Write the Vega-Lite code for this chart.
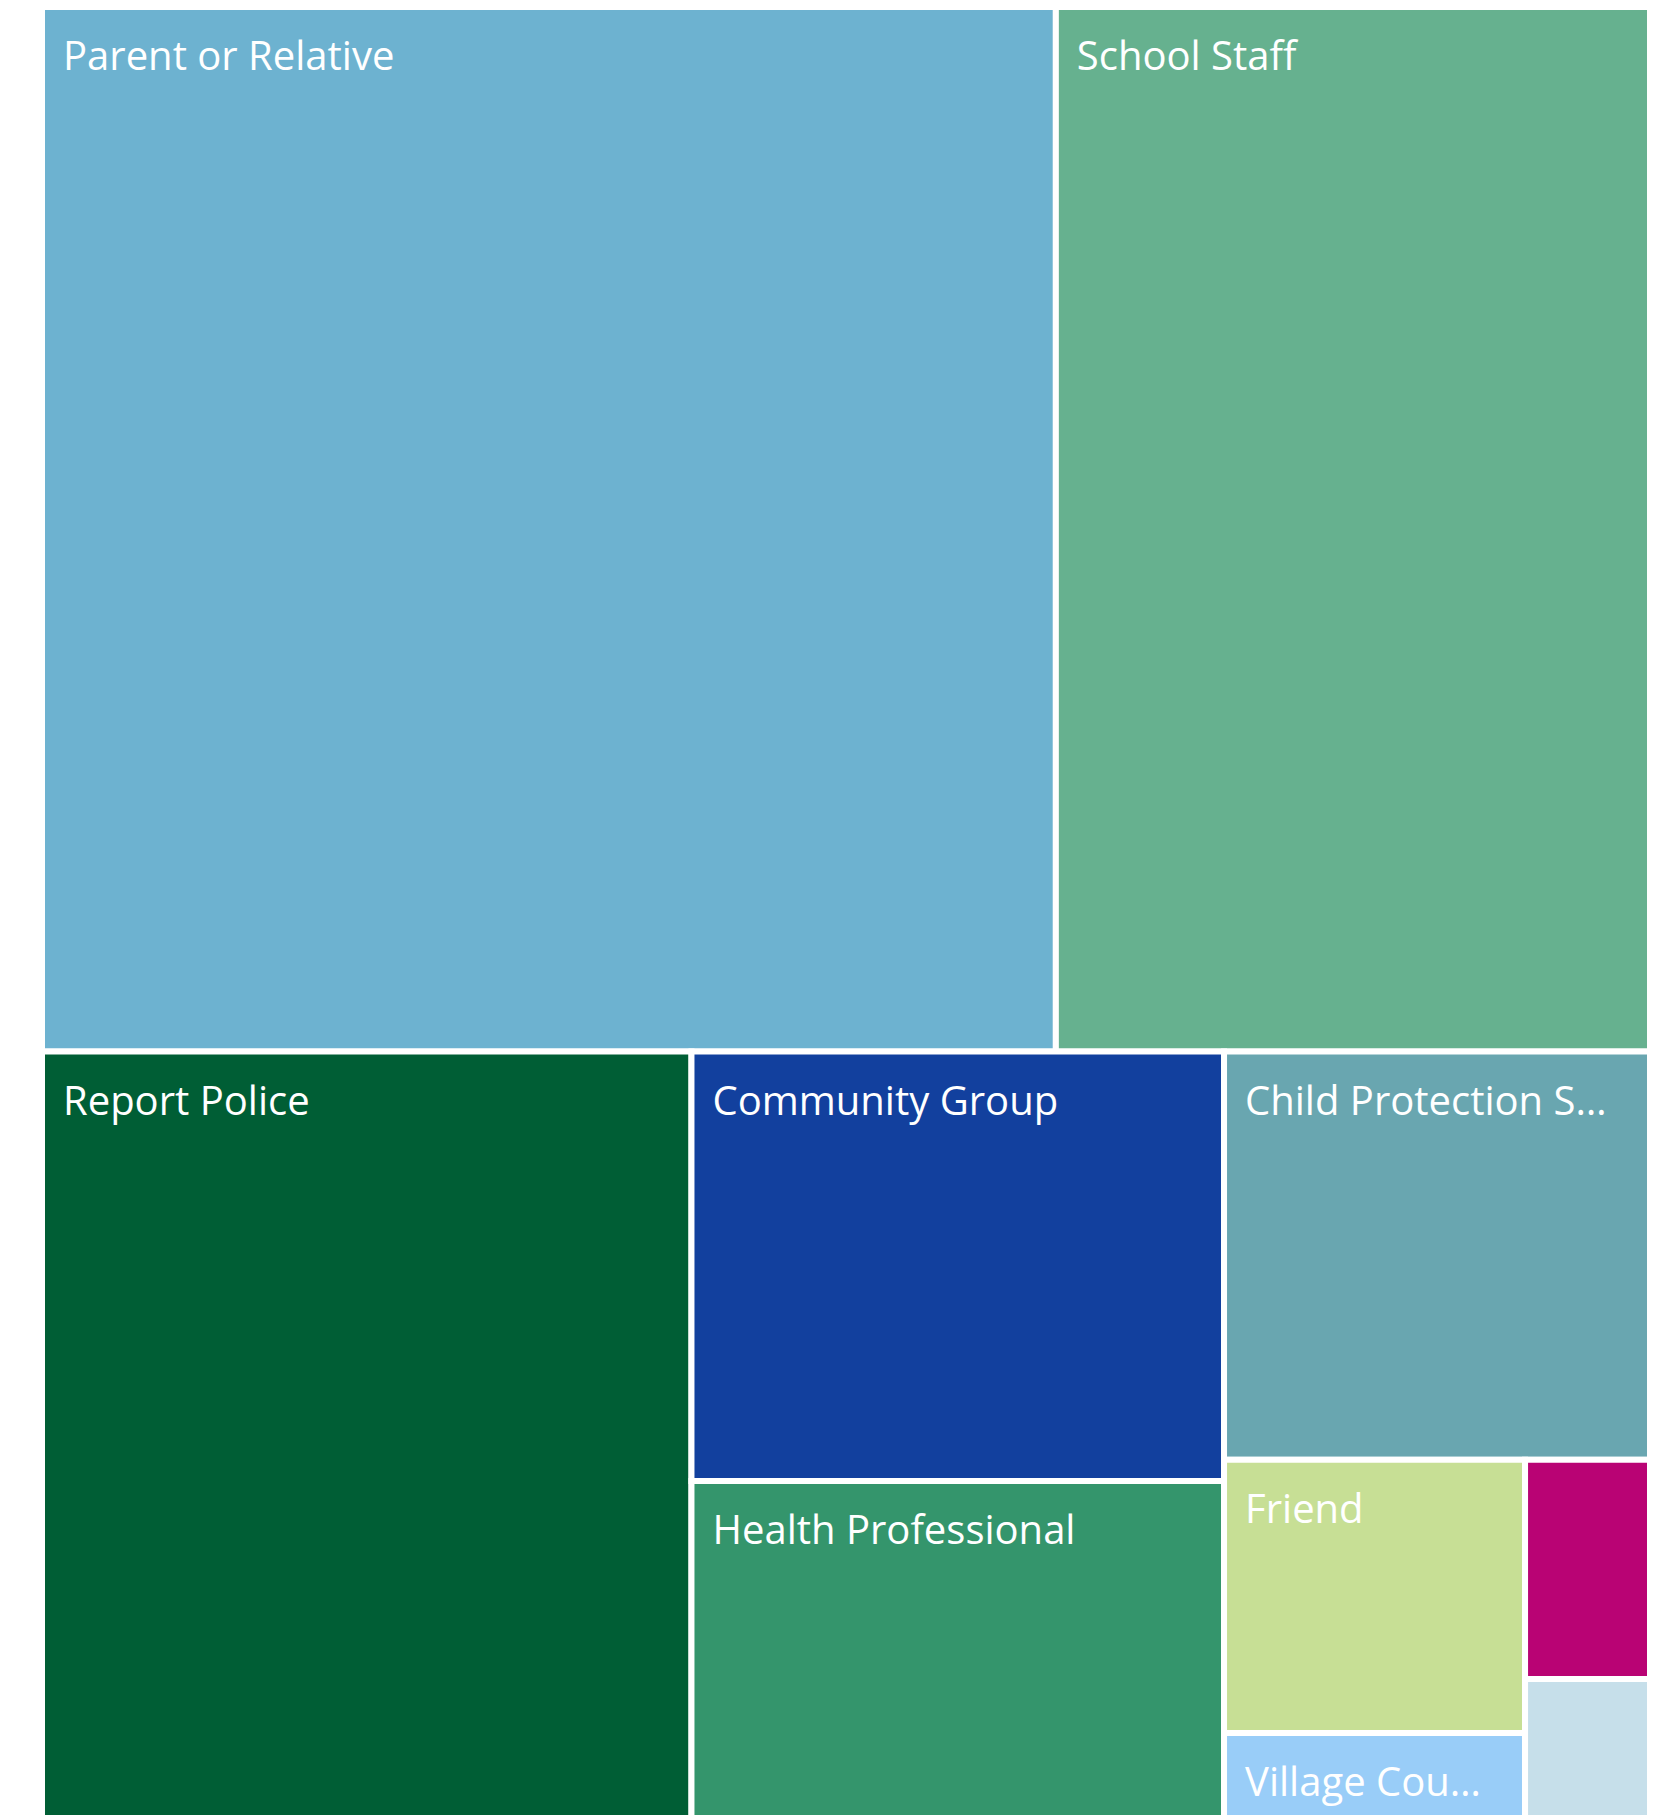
{
  "$schema": "https://vega.github.io/schema/vega-lite/v6.json",
  "width": 1608,
  "height": 1808,
  "autosize": {"type": "none"},
  "padding": {"left": 42, "top": 7, "right": 22, "bottom": 0},
  "background": "white",
  "config": {"view": {"stroke": null}},
  "data": {
    "values": [
      {"category": "Parent or Relative", "x": 0, "x2": 63.05, "y": 0, "y2": 64.96, "color": "#6DB2D0"},
      {"category": "School Staff", "x": 63.05, "x2": 100, "y": 0, "y2": 64.96, "color": "#66B18F"},
      {"category": "Report Police", "x": 0, "x2": 40.39, "y": 64.96, "y2": 117.1, "color": "#005E35"},
      {"category": "Community Group", "x": 40.39, "x2": 73.51, "y": 64.96, "y2": 91.67, "color": "#12409E"},
      {"category": "Health Professional", "x": 40.39, "x2": 73.51, "y": 91.67, "y2": 117.1, "color": "#34956C"},
      {"category": "Child Protection Services", "x": 73.51, "x2": 100, "y": 64.96, "y2": 90.34, "color": "#69A6B0"},
      {"category": "Friend", "x": 73.51, "x2": 92.23, "y": 90.34, "y2": 107.34, "color": "#C7DF95"},
      {"category": "Village Council", "x": 73.51, "x2": 92.23, "y": 107.34, "y2": 117.1, "color": "#99CDF8"},
      {"category": "Religious Leader", "x": 92.23, "x2": 100, "y": 90.34, "y2": 103.98, "color": "#B90374"},
      {"category": "Other", "x": 92.23, "x2": 100, "y": 103.98, "y2": 117.1, "color": "#C6DFEA"}
    ]
  },
  "encoding": {
    "x": {"field": "x", "type": "quantitative", "scale": {"domain": [0, 100], "nice": false, "zero": false}, "axis": null},
    "y": {"field": "y", "type": "quantitative", "scale": {"domain": [0, 112.44], "nice": false, "zero": false, "reverse": true}, "axis": null}
  },
  "layer": [
    {
      "mark": {"type": "rect", "stroke": "white", "strokeWidth": 6, "clip": true},
      "encoding": {
        "x2": {"field": "x2"},
        "y2": {"field": "y2"},
        "color": {"field": "color", "type": "nominal", "scale": null},
        "tooltip": [{"field": "category", "type": "nominal"}]
      }
    },
    {
      "transform": [{"filter": "datum.x2 - datum.x > 10"}],
      "mark": {
        "type": "text",
        "align": "left",
        "baseline": "alphabetic",
        "dx": 21,
        "dy": 63,
        "font": "Open Sans",
        "fontSize": 40,
        "color": "white",
        "clip": true,
        "limit": {"expr": "scale('x', datum.x2) - scale('x', datum.x) - 52"}
      },
      "encoding": {
        "text": {"field": "category", "type": "nominal"}
      }
    }
  ]
}
